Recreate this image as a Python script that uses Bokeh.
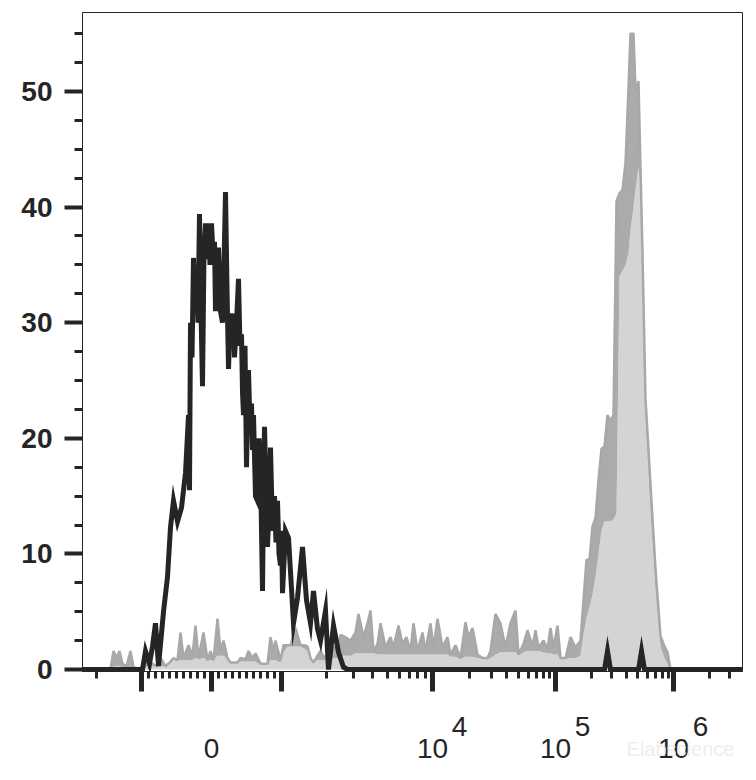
import numpy as np
from bokeh.plotting import figure
from bokeh.layouts import column
from bokeh.models import FixedTicker, Range1d
from bokeh.core.properties import value
from bokeh.embed import file_html
from bokeh.resources import INLINE

# ---------------- data (channel = position on the logicle display scale) ----------------
black_channel = [0, 60, 63, 67, 70, 73, 76, 81, 85, 88, 91, 95, 99, 103, 106, 107, 108, 109.5, 111,
                 112.5, 114, 115.5, 117, 118.5, 120, 121.5, 123, 124.5, 126, 127.5, 129, 130.5, 132,
                 133, 134.5, 136, 138, 140, 141.5, 143, 144.5, 146, 148, 150, 151, 152, 154, 156,
                 157.5, 159, 160, 161, 162.5, 164, 165, 166, 167.5, 169, 170, 171, 173, 175, 176.5,
                 178, 179, 180, 181, 182, 183.5, 185, 186.5, 188, 190, 192, 193.5, 195, 196.5, 198,
                 199, 200, 203, 206, 209, 211, 215, 220, 224, 228, 231, 235, 238, 243, 246, 251,
                 256, 261, 265, 522, 525, 528, 556, 559, 562, 660]
black_count = [0, 0, 1.6, 0.5, 2, 4, 0.3, 5, 8, 12.3, 14.6, 12.8, 14, 17, 22, 15.5, 30, 27, 35.6,
               31.5, 34, 30, 39.4, 31, 24.5, 36, 38.6, 35.5, 38.6, 35, 38.6, 36, 37,
               31, 34, 36.5, 31, 30, 35, 41.3, 33, 26, 30.8, 28, 30.8, 27, 30, 33.8,
               28, 29, 24, 22, 28, 17.5, 22, 25.9, 21, 23, 19, 22, 15, 14.6, 20,
               18, 12, 6.8, 15, 21, 16, 10.6, 14, 19.2, 12, 15, 11, 14.6, 10, 9,
               12, 6.6, 12, 11.4, 7, 4, 6.2, 10.6, 6, 4, 6.8, 3.5, 2.5, 5.1, 0, 3.8,
               1.5, 0.2, 0, 0, 1.6, 0, 0, 1.6, 0, 0]

grey_channel = [28, 31, 34, 37, 40, 44, 48, 51, 55, 61, 65, 70, 74, 78, 83, 87, 91, 95, 98, 101,
                106, 110, 113, 116, 121, 125, 128, 131, 135, 138, 141, 145, 148, 152, 155, 158,
                163, 166, 170, 173, 178, 182, 185, 188, 191, 193, 198, 201, 205, 208, 213, 218,
                222, 225, 228, 231, 235, 238, 242, 245, 248, 251, 255, 258, 263, 268, 273, 276,
                281, 285, 288, 291, 295, 298, 303, 308, 311, 316, 320, 324, 328, 331, 335, 340,
                343, 348, 351, 355, 360, 365, 368, 373, 378, 383, 386, 390, 395, 400, 405, 408,
                413, 418, 423, 428, 433, 436, 441, 445, 450, 453, 456, 461, 465, 468, 471, 475,
                478, 483, 488, 493, 498, 501, 504, 507, 510, 513, 516, 519, 522, 525, 528, 531,
                534, 537, 540, 543, 546, 548, 551, 553, 556, 558, 560, 563, 566, 568, 573, 578,
                582, 585, 588]
grey_upper = [0, 1.6, 1.0, 1.6, 0.5, 0.3, 1.6, 0.2, 0.1, 0.2, 1.0, 0.5, 0.3, 1.0, 0.3, 0.6, 1.0,
              0.8, 3.2, 1.0, 2.1, 1.2, 3.8, 1.0, 3.2, 0.8, 1.6, 0.8, 4.4, 1.6, 2.5, 1.0, 0.6, 0.6,
              0.6, 1.0, 0.9, 1.6, 1.0, 1.4, 0.5, 0.5, 0.5, 2.8, 1.6, 2.5, 0.8, 2.1, 2.1, 2.1, 3.6,
              2.1, 2.1, 2.0, 1.0, 0.6, 1.2, 1.6, 1.0, 1.3, 1.0, 2.0, 1.5, 3.0, 2.8, 2.5, 3.2, 4.8,
              2.8, 4.0, 5.1, 1.6, 2.2, 4.0, 1.9, 2.8, 1.9, 3.8, 2.2, 2.8, 1.6, 4.0, 1.6, 3.2,
              1.6, 4.0, 1.9, 4.4, 1.9, 2.8, 1.3, 2.1, 1.0, 4.1, 2.8, 3.6, 1.3, 1.0, 1.0, 1.6,
              4.8, 4.0, 1.9, 4.0, 5.1, 1.3, 2.2, 3.4, 2.0, 3.4, 1.9, 2.5, 1.8, 3.6, 1.9, 3.8,
              1.0, 1.0, 2.8, 1.9, 2.5, 6.0, 9.5, 9.5, 12.4, 13.1, 16.4, 19.1, 19.3, 22.0, 21.5, 22.0,
              40.5, 41.2, 41.5, 43.8, 50.3, 55.0, 55.0, 50.0, 50.9, 43.4, 36.0, 23.4, 19.0, 16.0, 8.7, 2.9,
              2.0, 1.5, 0]
grey_lower = [0, 0.3, 0.3, 0.3, 0.2, 0.2, 0.2, 0.1, 0.1, 0.1, 0.3, 0.3, 0.2, 0.3, 0.3, 0.5, 0.8,
              0.8, 0.8, 0.8, 0.8, 0.8, 1.0, 0.9, 1.0, 0.8, 0.8, 0.8, 1.2, 1.2, 1.2, 0.9, 0.6, 0.6,
              0.6, 0.7, 0.7, 0.7, 0.7, 0.7, 0.4, 0.4, 0.4, 0.8, 0.8, 0.8, 0.6, 1.5, 2.0, 2.0, 2.0,
              2.0, 1.8, 1.6, 0.9, 0.6, 0.8, 0.8, 0.8, 0.8, 0.8, 1.0, 1.0, 1.2, 1.2, 1.2, 1.4, 1.4,
              1.4, 1.4, 1.4, 1.4, 1.3, 1.3, 1.3, 1.3, 1.3, 1.3, 1.3, 1.3, 1.3, 1.3, 1.3, 1.3,
              1.3, 1.3, 1.3, 1.3, 1.3, 1.3, 1.1, 1.1, 0.9, 1.1, 1.1, 1.1, 1.0, 0.9, 0.9, 1.0,
              1.3, 1.5, 1.5, 1.5, 1.5, 1.2, 1.5, 1.6, 1.6, 1.6, 1.6, 1.5, 1.4, 1.4, 1.3, 1.3,
              0.9, 0.9, 1.0, 1.0, 1.2, 3.0, 4.5, 5.4, 6.5, 8.0, 10.0, 12.0, 12.8, 12.8, 12.8, 13.0,
              13.5, 34.0, 34.5, 35.0, 36.0, 38.0, 40.0, 41.5, 43.4, 42.0, 33.0, 22.0, 17.0, 14.0, 7.0, 2.0,
              1.0, 0.5, 0]

x_major_values = [-1000, 0, 1000, 10**4, 10**5, 10**6]
x_label_values = [0, 10**4, 10**5, 10**6]
x_label_texts = ["0", "10", "10", "10"]
x_super_values = [10**4, 10**5, 10**6]
x_super_texts = ["4", "5", "6"]
x_minor_values = ([-2000] + list(range(-900, 0, 100)) + list(range(100, 1000, 100))
                  + [k * 10**e for e in (3, 4, 5) for k in range(2, 10)] + [2 * 10**6, 3 * 10**6])
y_major_values = [0, 10, 20, 30, 40, 50]
y_minor_values = [2.5, 5, 7.5, 12.5, 15, 17.5, 22.5, 25, 27.5, 32.5, 35, 37.5,
                  42.5, 45, 47.5, 52.5, 55]


# logicle-like display transform (value -> channel)
def to_channel(v):
    a = abs(v)
    if a <= 1000:
        d = 0.07 * a
    elif a <= 1e4:
        d = 70 + 151 * np.log10(a / 1e3)
    elif a <= 1e5:
        d = 221 + 123 * np.log10(a / 1e4)
    else:
        d = 344 + 118 * np.log10(a / 1e5)
    return 129 + (d if v >= 0 else -d)


FONT = "Liberation Sans"
INK = "#252525"

p = figure(frame_width=660, frame_height=659, output_backend="svg", toolbar_location=None,
           x_range=Range1d(0, 660), y_range=Range1d(-0.17, 56.83),
           min_border_left=82, min_border_right=12, min_border_top=12, min_border_bottom=28)
p.grid.visible = False
p.outline_line_color = INK
p.outline_line_width = 1
p.background_fill_color = "white"
p.border_fill_color = "white"

# grey (stained) histogram
p.varea(x=grey_channel, y1=0, y2=grey_lower, fill_color="#d4d4d4")
p.varea(x=grey_channel, y1=grey_lower, y2=grey_upper, fill_color="#ababab")
p.line(grey_channel, grey_upper, line_color="#a8a8a8", line_width=2.5)

# black (control) histogram
p.line(black_channel, black_count, line_color=INK, line_width=5, line_join="miter")

# x axis (ticks only; labels drawn in the strip below)
major_pos = [to_channel(v) for v in x_major_values]
minor_pos = [to_channel(v) for v in x_minor_values]
xa = p.xaxis[0]
xa.ticker = FixedTicker(ticks=major_pos, minor_ticks=minor_pos)
xa.major_label_overrides = {mp: "" for mp in major_pos}
xa.major_label_text_font_size = "1px"
xa.major_label_standoff = 0
xa.major_tick_out = 20
xa.major_tick_in = 0
xa.major_tick_line_width = 5
xa.minor_tick_out = 7
xa.minor_tick_in = 0
xa.minor_tick_line_width = 3
xa.major_tick_line_color = INK
xa.minor_tick_line_color = INK
xa.axis_line_color = INK
xa.axis_line_width = 1

# y axis
ya = p.yaxis[0]
ya.ticker = FixedTicker(ticks=y_major_values, minor_ticks=y_minor_values)
ya.major_tick_out = 18
ya.major_tick_in = 0
ya.major_tick_line_width = 4
ya.minor_tick_out = 8
ya.minor_tick_in = 0
ya.minor_tick_line_width = 3
ya.major_tick_line_color = INK
ya.minor_tick_line_color = INK
ya.axis_line_color = INK
ya.major_label_standoff = 12
ya.major_label_text_font = FONT
ya.major_label_text_font_size = "28px"
ya.major_label_text_font_style = "bold"
ya.major_label_text_color = INK

# strip below the plot for the x tick labels (shares the x scale)
H2 = 76
q = figure(frame_width=660, frame_height=H2, output_backend="svg", toolbar_location=None,
           x_range=p.x_range, y_range=Range1d(0, H2),
           min_border_left=82, min_border_right=12, min_border_top=0, min_border_bottom=0)
q.axis.visible = False
q.grid.visible = False
q.outline_line_color = None
q.background_fill_color = "white"
q.border_fill_color = "white"

q.text(x=[to_channel(v) for v in x_label_values], y=[27] * len(x_label_values), text=x_label_texts,
       text_font=value(FONT), text_font_size="28px", text_color=INK,
       text_align="center", text_baseline="middle")
q.text(x=[to_channel(v) + 27 for v in x_super_values], y=[49] * len(x_super_values), text=x_super_texts,
       text_font=value(FONT), text_font_size="28px", text_color=INK,
       text_align="center", text_baseline="middle")
q.text(x=[598], y=[27], text=["Elabscience"], text_font=value(FONT), text_font_size="20px",
       text_color="#eeeeee", text_align="center", text_baseline="middle")

layout = column(p, q, spacing=0)
open("out.html", "w").write(file_html(layout, INLINE))
